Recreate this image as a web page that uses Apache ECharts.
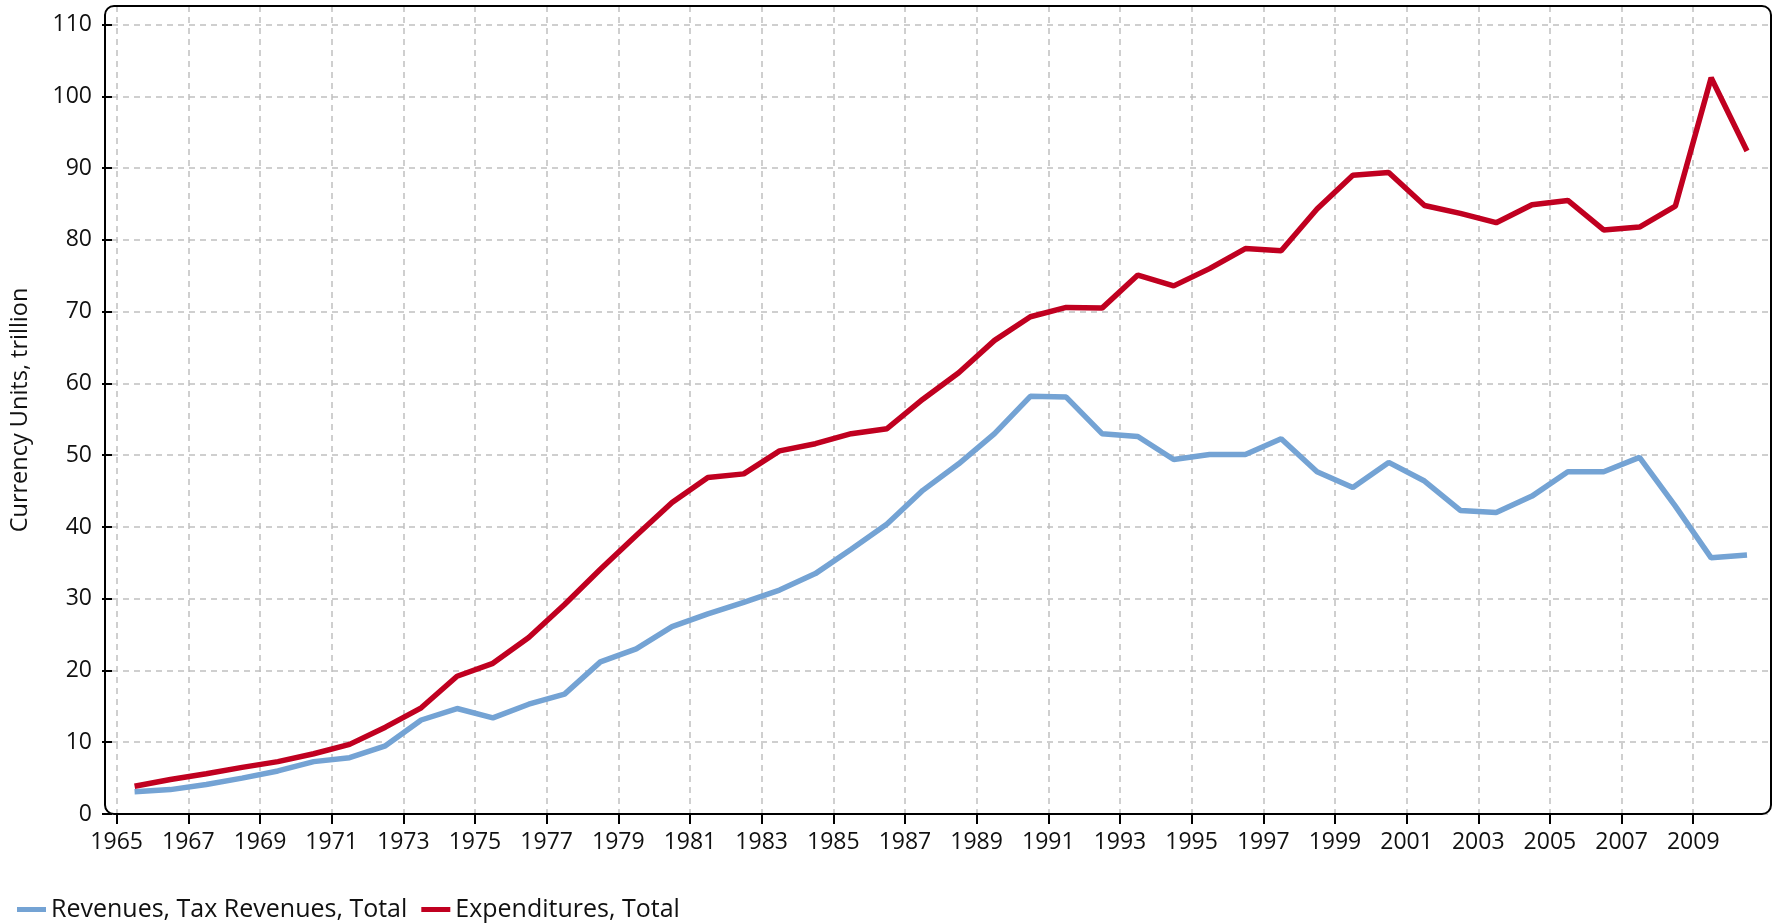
<!DOCTYPE html>
<html>
<head>
<meta charset="utf-8">
<script src="https://cdn.jsdelivr.net/npm/echarts@6/dist/echarts.min.js"></script>
<style>
html,body{margin:0;padding:0;background:#fff;}
#chart{width:1774px;height:923px;}
</style>
</head>
<body>
<div id="chart"></div>
<script>
const years = [1965,1966,1967,1968,1969,1970,1971,1972,1973,1974,1975,1976,1977,1978,1979,1980,1981,1982,1983,1984,1985,1986,1987,1988,1989,1990,1991,1992,1993,1994,1995,1996,1997,1998,1999,2000,2001,2002,2003,2004,2005,2006,2007,2008,2009,2010];
const revenues = [3.1,3.4,4.1,5.0,6.0,7.3,7.85,9.5,13.1,14.7,13.4,15.3,16.7,21.2,23.0,26.1,27.9,29.5,31.2,33.5,36.9,40.4,45.1,48.8,53.0,58.2,58.1,53.0,52.6,49.4,50.1,50.1,52.3,47.7,45.5,49.0,46.4,42.3,42.0,44.3,47.7,47.7,49.7,42.9,35.7,36.1];
const expenditures = [3.86,4.8,5.6,6.5,7.3,8.4,9.7,12.1,14.8,19.2,21.0,24.6,29.2,34.1,38.8,43.4,46.9,47.4,50.6,51.6,53.0,53.7,57.8,61.5,66.0,69.3,70.6,70.5,75.1,73.6,76.0,78.8,78.5,84.3,89.0,89.4,84.8,83.7,82.4,84.9,85.5,81.4,81.8,84.7,102.6,92.4];
const yTicks = [0,10,20,30,40,50,60,70,80,90,100,110];
const xTicks = [1965,1967,1969,1971,1973,1975,1977,1979,1981,1983,1985,1987,1989,1991,1993,1995,1997,1999,2001,2003,2005,2007,2009];
const seriesNames = ['Revenues, Tax Revenues, Total','Expenditures, Total'];

const FONT = 'Open Sans';
const G = {left:105, top:6, width:1666, height:808};
const chart = echarts.init(document.getElementById('chart'), null, {renderer:'canvas'});
const toPairs = arr => years.map((y,i)=>[y+0.5, arr[i]]);
const gridLine = {show:true, lineStyle:{color:'#c0c0c0', width:1.5, type:[6,5]}};
chart.setOption({
  animation:false,
  backgroundColor:'#fff',
  textStyle:{fontFamily:FONT},
  grid:{left:G.left, top:G.top, width:G.width, height:G.height, containLabel:false},
  legend:{
    left:12, top:892, itemWidth:29, itemHeight:5, itemGap:14, icon:'rect',
    textStyle:{fontFamily:FONT, fontSize:25, color:'#111'},
    data:seriesNames
  },
  xAxis:{
    type:'value', min:1964.87, max:2011.17,
    axisLine:{show:false},
    axisTick:{show:true, length:10, lineStyle:{color:'#000', width:2}, customValues:xTicks},
    axisLabel:{show:true, customValues:xTicks, margin:17, fontSize:23, color:'#111', fontFamily:FONT, formatter:v=>String(v)},
    splitLine:gridLine
  },
  yAxis:{
    type:'value', min:0, max:112.6,
    name:'Currency Units, trillion', nameLocation:'middle', nameGap:80, nameRotate:90,
    nameTextStyle:{fontFamily:FONT, fontSize:23.5, color:'#111'},
    axisLine:{show:false},
    axisTick:{show:true, length:10, lineStyle:{color:'#000', width:2}, customValues:yTicks},
    axisLabel:{show:true, customValues:yTicks, margin:20, fontSize:23, color:'#111', fontFamily:FONT},
    splitLine:gridLine
  },
  graphic:[{
    type:'rect', z:100, silent:true,
    shape:{x:G.left, y:G.top, width:G.width, height:G.height, r:9},
    style:{fill:'none', stroke:'#000', lineWidth:2}
  }],
  series:[
    {name:seriesNames[0], type:'line', data:toPairs(revenues), symbol:'none', itemStyle:{color:'#74a3d4'}, lineStyle:{color:'#74a3d4', width:5.5}, z:3},
    {name:seriesNames[1], type:'line', data:toPairs(expenditures), symbol:'none', itemStyle:{color:'#c00020'}, lineStyle:{color:'#c00020', width:5.5}, z:4}
  ]
});
</script>
</body>
</html>
